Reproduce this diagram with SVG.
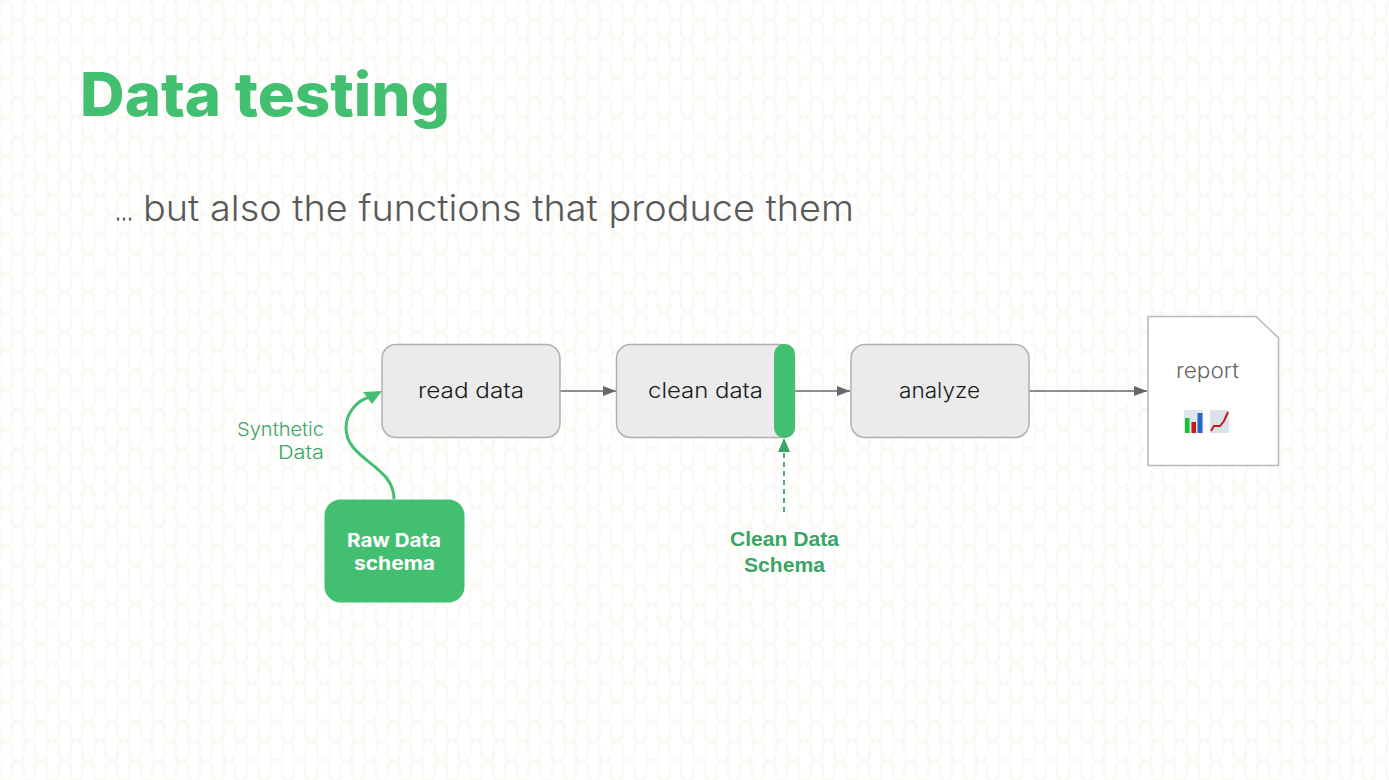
<svg xmlns="http://www.w3.org/2000/svg" width="1389" height="780" viewBox="0 0 1389 780">
<style>
text{font-family:"Inter","Liberation Sans",sans-serif}
.box{fill:#ebebeb;stroke:#b0b0b0;stroke-width:1.5}
.lbl{font-size:21px;fill:#1a1a1a;font-weight:300}
.cn{fill:none;stroke:#66666e;stroke-width:1.5}
.bgl{fill:none;stroke:#faf9f4;stroke-width:3}
</style>
<defs>
<pattern id="bg" width="47" height="39" patternUnits="userSpaceOnUse">
<path class="bgl" d="M0 14V6a5.875 5.875 0 0 1 11.750 0v8a5.875 5.875 0 0 0 11.750 0V6a5.875 5.875 0 0 1 11.750 0v8a5.875 5.875 0 0 0 11.750 0"/>
<path class="bgl" d="M-11.750 33.500V25.500a5.875 5.875 0 0 1 11.750 0v8a5.875 5.875 0 0 0 11.750 0V25.500a5.875 5.875 0 0 1 11.750 0v8a5.875 5.875 0 0 0 11.750 0V25.500a5.875 5.875 0 0 1 11.750 0v8a5.875 5.875 0 0 0 11.750 0"/>
</pattern>
<marker id="g" markerWidth="14" markerHeight="12" refX="13" refY="5" orient="auto" markerUnits="userSpaceOnUse"><path d="M0 0L13 5L0 10z" fill="#66666e"/></marker>
</defs>
<rect width="1389" height="780" fill="#fff"/>
<rect width="1389" height="780" fill="url(#bg)"/>
<text x="80" y="116" font-size="60" font-weight="800" fill="#43bf71" textLength="370" lengthAdjust="spacingAndGlyphs">Data testing</text>
<text y="221" font-size="36" font-weight="300" fill="#595959"><tspan x="115" textLength="18" lengthAdjust="spacingAndGlyphs">…</tspan> <tspan x="143" textLength="711" lengthAdjust="spacingAndGlyphs">but also the functions that produce them</tspan></text>
<g id="connectors">
<path class="cn" d="M560 391H616" marker-end="url(#g)"/>
<path class="cn" d="M795 391H850" marker-end="url(#g)"/>
<path class="cn" d="M1029 391H1147" marker-end="url(#g)"/>
<path d="M394 499C394 465 346 460 346 428C346 412 358 400 370 397" fill="none" stroke="#43bf71" stroke-width="3"/>
<path d="M382 391L363 392L372 404z" fill="#43bf71"/>
<path d="M784 512V450" fill="none" stroke="#3aa564" stroke-width="1.800" stroke-dasharray="5 4"/>
<path d="M784 438L790 452H778z" fill="#3aa564"/>
</g>
<g id="read"><rect class="box" x="382" y="344.500" width="178" height="93" rx="14"/><text class="lbl" x="418" y="398" textLength="106" lengthAdjust="spacingAndGlyphs">read data</text></g>
<g id="clean"><rect class="box" x="616.500" y="344.500" width="178" height="93" rx="14"/><text class="lbl" x="648" y="398" textLength="115" lengthAdjust="spacingAndGlyphs">clean data</text><rect x="774" y="344" width="21" height="94" rx="10" fill="#43bf71"/></g>
<g id="analyze"><rect class="box" x="851" y="344.500" width="178" height="93" rx="14"/><text class="lbl" x="899" y="398" textLength="81" lengthAdjust="spacingAndGlyphs">analyze</text></g>
<g id="report"><path d="M1148 316.500H1256L1278.500 338V465.500H1148z" fill="#fff" stroke="#b8b8b8" stroke-width="1.500"/><text x="1176" y="378" font-size="21" font-weight="300" fill="#666" textLength="63" lengthAdjust="spacingAndGlyphs">report</text>
<rect x="1184" y="410" width="19" height="23" fill="#dfe6ee"/><rect x="1185" y="418" width="4.500" height="15" fill="#17c42a"/><rect x="1191.500" y="422" width="4.500" height="11" fill="#d01818"/><rect x="1197.500" y="413" width="5" height="20" fill="#2a66c8"/>
<rect x="1210" y="410" width="19" height="23" fill="#dbe2ea"/><path d="M1211 431L1214 426L1220 426L1224 421L1228 412" fill="none" stroke="#c81818" stroke-width="2"/></g>
<text x="237" y="436" font-size="19" font-weight="300" fill="#3aa564" textLength="87" lengthAdjust="spacingAndGlyphs">Synthetic</text>
<text x="278" y="459" font-size="19" font-weight="300" fill="#3aa564" textLength="46" lengthAdjust="spacingAndGlyphs">Data</text>
<g id="raw"><rect x="324.500" y="499.500" width="140" height="103" rx="16" fill="#43bf71"/><text x="347" y="547" font-size="19" font-weight="700" fill="#fff" textLength="94" lengthAdjust="spacingAndGlyphs">Raw Data</text><text x="354" y="570" font-size="19" font-weight="700" fill="#fff" textLength="81" lengthAdjust="spacingAndGlyphs">schema</text></g>
<text x="730" y="546" style="font-family:'Liberation Sans',sans-serif" font-size="20" font-weight="700" fill="#3aa564" textLength="109" lengthAdjust="spacingAndGlyphs">Clean Data</text>
<text x="744" y="572" style="font-family:'Liberation Sans',sans-serif" font-size="20" font-weight="700" fill="#3aa564" textLength="81" lengthAdjust="spacingAndGlyphs">Schema</text>
</svg>
